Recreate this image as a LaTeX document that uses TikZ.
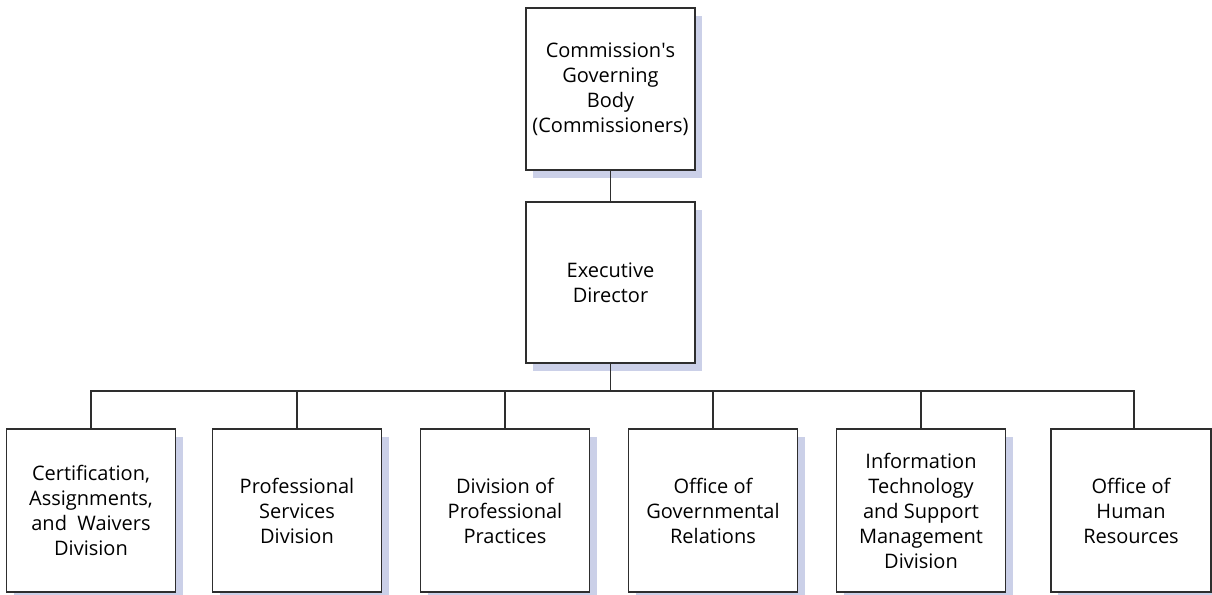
\documentclass[tikz,border=0pt]{standalone}
\usepackage{fontspec}
\setmainfont{Open Sans}
\usetikzlibrary{shadows}
\definecolor{shadowblue}{HTML}{CBD0E8}
\definecolor{linegray}{HTML}{2E2E2E}
\tikzset{
  orgbox/.style={draw=linegray, line width=1.3pt, fill=white, align=center,
    minimum width=169pt, minimum height=162pt, inner sep=2pt,
    font=\fontsize{20}{25}\selectfont,
    drop shadow={shadow xshift=7pt, shadow yshift=-8pt, fill=shadowblue, opacity=1}},
  orgline/.style={draw=linegray, line width=1.3pt}
}
\begin{document}
\begin{tikzpicture}[x=1pt, y=-1pt]
  \useasboundingbox (0,0) rectangle (1212,594);
  \clip (0,0) rectangle (1212,594);
  % top levels
  \node[orgbox] (board) at (610.5,89) {Commission\textquotesingle s\\Governing\\Body\\(Commissioners)};
  \node[orgbox, minimum height=161pt] (director) at (610.5,282.5) {Executive\\Director};
  % divisions
  \node[orgbox, minimum height=163pt] (cert) at (91,510.5) {Certification,\\Assignments,\\and~ Waivers\\Division};
  \node[orgbox, minimum height=163pt] (services) at (297,510.5) {Professional\\Services\\Division};
  \node[orgbox, minimum height=163pt] (practices) at (505,510.5) {Division of\\Professional\\Practices};
  \node[orgbox, minimum height=163pt] (relations) at (713,510.5) {Office of\\Governmental\\Relations};
  \node[orgbox, minimum height=163pt] (infotech) at (921,510.5) {Information\\Technology\\and Support\\Management\\Division};
  \node[orgbox, minimum height=163pt, minimum width=160pt] (humanres) at (1131,510.5) {Office of\\Human\\Resources};
  \coordinate (bus) at (610.5,391);
  % Relations
  \draw[orgline] (board.south) -- (director.north);
  \draw[orgline] (director.south) -- (bus);
  \draw[orgline] (bus) -| (cert.north);
  \draw[orgline] (bus) -| (services.north);
  \draw[orgline] (bus) -| (practices.north);
  \draw[orgline] (bus) -| (relations.north);
  \draw[orgline] (bus) -| (infotech.north);
  \draw[orgline] (bus) -| ([xshift=3pt]humanres.north);
\end{tikzpicture}
\end{document}
